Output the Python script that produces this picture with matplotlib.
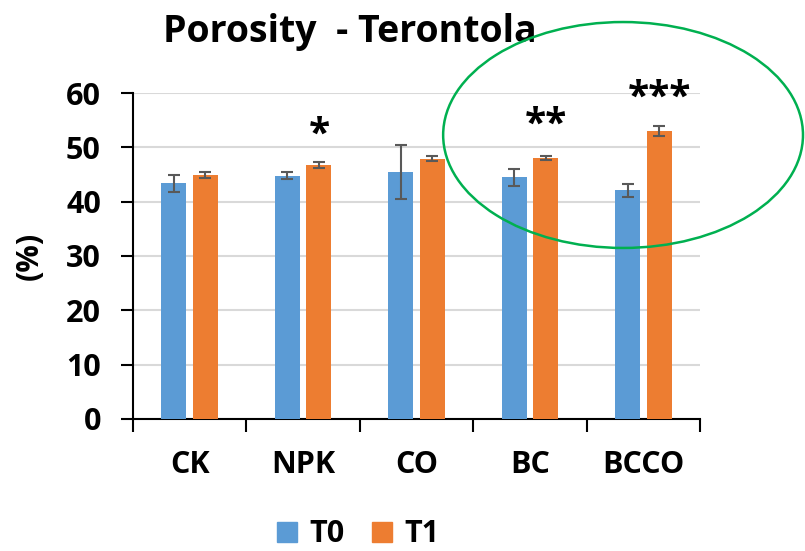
import numpy as np
import matplotlib
matplotlib.use('Agg')
import matplotlib.pyplot as plt
from matplotlib.patches import Ellipse, Patch

# porosity (%) per treatment, before (T0) and after (T1)
categories = ['CK', 'NPK', 'CO', 'BC', 'BCCO']
t0_mean = [43.4, 44.8, 45.4, 44.5, 42.1]
t0_err = [1.6, 0.6, 5.0, 1.55, 1.15]
t1_mean = [44.9, 46.7, 47.9, 48.0, 53.0]
t1_err = [0.5, 0.55, 0.5, 0.35, 0.9]
signif = ['', '*', '', '**', '***']
signif_y = [0, 52.3, 0, 54.1, 59.1]

blue = '#5B9BD5'
orange = '#ED7D31'

plt.rcParams['font.family'] = ['Open Sans', 'DejaVu Sans']
plt.rcParams['font.weight'] = 'bold'

fig = plt.figure(figsize=(8.05, 5.51), dpi=100)
ax = fig.add_axes([0.165, 0.2396, 0.705, 0.5916])

x = np.arange(len(categories))
w = 0.22
off = 0.14
err_kw = dict(ecolor='#595959', elinewidth=1.5, capsize=4.5, capthick=1.5)
ax.bar(x - off, t0_mean, w, color=blue, yerr=t0_err, error_kw=err_kw,
       zorder=3, label='T0')
ax.bar(x + off, t1_mean, w, color=orange, yerr=t1_err, error_kw=err_kw,
       zorder=3, label='T1')

for i, s in enumerate(signif):
    if s:
        ax.text(x[i] + off, signif_y[i], s, ha='center', va='center',
                fontsize=28, fontweight='bold', clip_on=False)

ax.set_xlim(-0.5, len(categories) - 0.5)
ax.set_ylim(0, 60)
ax.set_yticks(range(0, 61, 10))
ax.set_xticks(x)
ax.set_xticklabels(categories)
ax.set_xticks(np.arange(-0.5, len(categories), 1.0), minor=True)
ax.tick_params(axis='x', which='major', length=0, pad=22, labelsize=22)
ax.tick_params(axis='x', which='minor', length=9, width=1.5, color='black')
ax.tick_params(axis='y', length=9, width=1.5, labelsize=22, pad=14)
ax.yaxis.grid(True, color='#D9D9D9', linewidth=1.5, zorder=0)
ax.set_axisbelow(True)

for side in ['top', 'right']:
    ax.spines[side].set_visible(False)
ax.spines['left'].set_linewidth(1.5)
ax.spines['bottom'].set_linewidth(1.5)

ax.set_ylabel('(%)', fontsize=22, fontweight='bold')
ax.yaxis.set_label_coords(-0.155, 0.5)

fig.text(0.435, 0.924, 'Porosity  - Terontola', ha='center', va='baseline',
         fontsize=27, fontweight='bold')

handles = [Patch(color=blue, label='T0'), Patch(color=orange, label='T1')]
fig.legend(handles=handles, loc='center', bbox_to_anchor=(0.445, 0.03),
           ncol=2, frameon=False, fontsize=22, handlelength=0.65,
           handleheight=0.65, handletextpad=0.4, columnspacing=0.9,
           borderpad=0)

# highlight circle around BC / BCCO
ell = Ellipse((0.774, 0.755), 0.447, 0.410, transform=fig.transFigure,
              fill=False, edgecolor='#00B050', linewidth=1.8, clip_on=False,
              zorder=5)
fig.add_artist(ell)

fig.savefig('out.png', dpi=100)
